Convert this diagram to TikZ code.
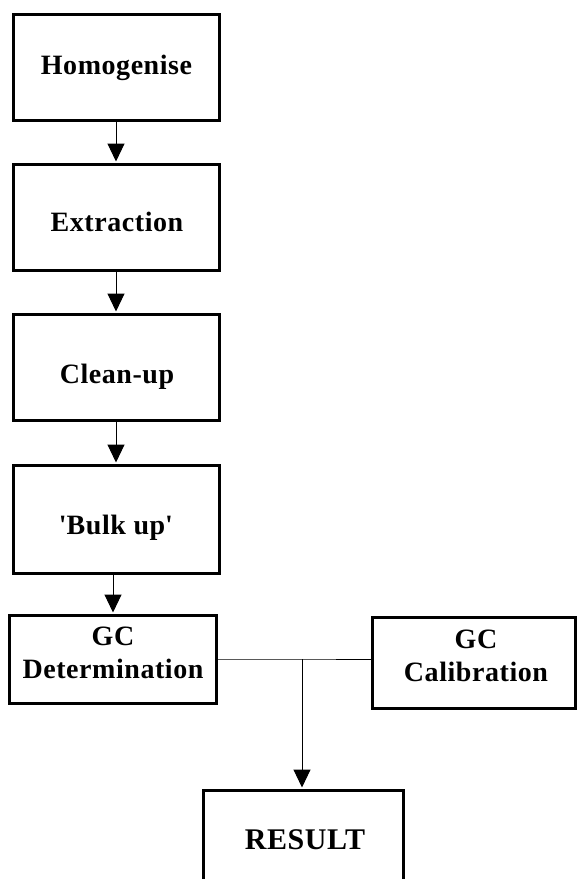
\documentclass[tikz,border=0pt]{standalone}
\usepackage{fontspec}
\setmainfont[LetterSpace=2]{Liberation Serif}
\usetikzlibrary{arrows.meta}
\tikzset{
  stepbox/.style={draw=black, line width=3pt, inner sep=0pt, fill=none},
  lbl/.style={inner sep=0pt, font=\fontsize{28}{33}\selectfont\bfseries, text=black},
  lblone/.style={lbl, text height=18.5pt, text depth=0pt},
  conn/.style={draw=black, line width=1pt},
  arr/.style={conn, -{Triangle[length=18pt,width=17pt]}, shorten >=1pt}
}
\begin{document}
\begin{tikzpicture}[x=1pt,y=-1pt]
\useasboundingbox (0,0) rectangle (577,879);
\clip (0,0) rectangle (577,879);
\fill[white] (0,0) rectangle (577,879);
% boxes
\node[stepbox, minimum width=206pt, minimum height=106pt] (hom) at (116,67) {};
\node[stepbox, minimum width=206pt, minimum height=106pt] (ext) at (116,217) {};
\node[stepbox, minimum width=206pt, minimum height=106pt] (cln) at (116,367) {};
\node[stepbox, minimum width=206pt, minimum height=108pt] (blk) at (116,519) {};
\node[stepbox, minimum width=207pt, minimum height=88pt] (det) at (113,659) {};
\node[stepbox, minimum width=203pt, minimum height=91pt] (cal) at (473.5,662.5) {};
\node[stepbox, minimum width=200pt, minimum height=100pt] (res) at (303,840) {};
% labels
\node[lblone] (thom) at (116.5,65.5) {Homogenise};
\node[lblone] (text) at (117,222.5) {Extraction};
\node[lblone] (tcln) at (117,374) {Clean-up};
\node[lblone] (tblk) at (116,525.5) {\textquotesingle Bulk up\textquotesingle};
\node[lbl, align=center] (tdet) at (113,653) {GC\\Determination};
\node[lbl, align=center] (tcal) at (476,655.5) {GC\\Calibration};
\node[lblone, font=\fontsize{30}{36}\selectfont\bfseries, text height=20pt] (tres) at (305,839) {RESULT};
% connectors
\draw[arr] (hom.south) -- (ext.north);
\draw[arr] (ext.south) -- (cln.north);
\draw[arr] (cln.south) -- (blk.north);
\draw[arr] (blk.south -| det.north) -- (det.north);
\coordinate (j) at (302,659);
\draw[conn] (det.east |- j) -- (j) -- (j -| cal.west);
\draw[arr] (j) -- (j |- res.north);
\end{tikzpicture}
\end{document}
